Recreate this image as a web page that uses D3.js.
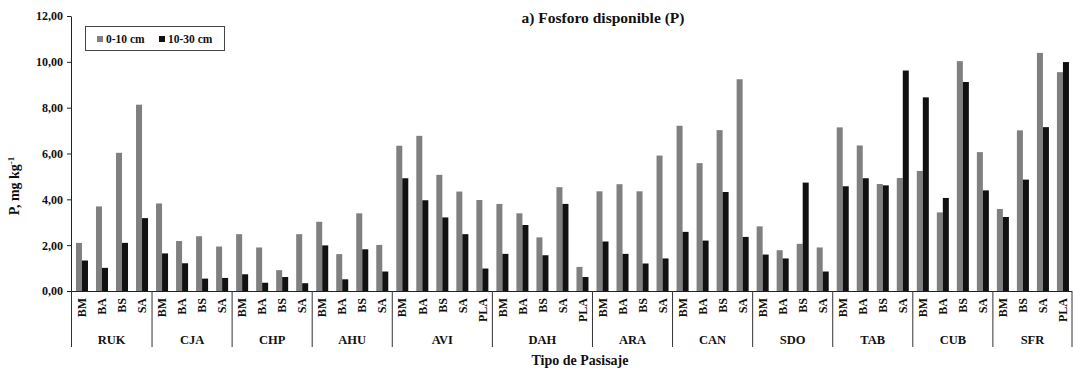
<!DOCTYPE html>
<html>
<head>
<meta charset="utf-8">
<script src="https://cdn.jsdelivr.net/npm/d3@7"></script>
<style>
  html, body { margin: 0; padding: 0; background: #fff; }
  svg { display: block; font-family: "Liberation Serif", "Times New Roman", serif; font-weight: bold; }
</style>
</head>
<body>
<svg id="chart" width="1073" height="369"></svg>
<script>
// Landscape groups and the sampling sites inside each one
const groups = ["RUK", "CJA", "CHP", "AHU", "AVI", "DAH", "ARA", "CAN", "SDO", "TAB", "CUB", "SFR"];
const sites = [
  ["BM", "BA", "BS", "SA"],
  ["BM", "BA", "BS", "SA"],
  ["BM", "BA", "BS", "SA"],
  ["BM", "BA", "BS", "SA"],
  ["BM", "BA", "BS", "SA", "PLA"],
  ["BM", "BA", "BS", "SA", "PLA"],
  ["BM", "BA", "BS", "SA"],
  ["BM", "BA", "BS", "SA"],
  ["BM", "BA", "BS", "SA"],
  ["BM", "BA", "BS", "SA"],
  ["BM", "BA", "BS", "SA"],
  ["BM", "BS", "SA", "PLA"]
];

// Available phosphorus (mg kg-1), one entry per site, in the order above
const p0to10 = [
  2.10, 3.69, 6.03, 8.13,
  3.82, 2.18, 2.39, 1.94,
  2.48, 1.90, 0.91, 2.48,
  3.02, 1.61, 3.39, 2.01,
  6.34, 6.77, 5.07, 4.34, 3.97,
  3.80, 3.39, 2.34, 4.53, 1.05,
  4.35, 4.66, 4.35, 5.91,
  7.21, 5.58, 7.02, 9.24,
  2.82, 1.78, 2.06, 1.90,
  7.14, 6.35, 4.67, 4.93,
  5.24, 3.43, 10.03, 6.06,
  3.58, 7.01, 10.39, 9.55
];
const p10to30 = [
  1.33, 1.01, 2.10, 3.18,
  1.64, 1.21, 0.54, 0.57,
  0.73, 0.36, 0.61, 0.34,
  1.99, 0.51, 1.82, 0.85,
  4.92, 3.96, 3.21, 2.48, 0.98,
  1.62, 2.88, 1.56, 3.80, 0.61,
  2.16, 1.62, 1.20, 1.42,
  2.58, 2.20, 4.32, 2.36,
  1.59, 1.42, 4.73, 0.85,
  4.57, 4.92, 4.61, 9.62,
  8.45, 4.06, 9.12, 4.39,
  3.23, 4.86, 7.15, 9.99
];

const seriesNames = ["0-10 cm", "10-30 cm"];
const seriesColors = ["#808080", "#111111"];
const yTicks = [0, 2, 4, 6, 8, 10, 12];

// Flatten into one record per bar pair
const rows = [];
groups.forEach((g, gi) => {
  sites[gi].forEach(s => {
    const i = rows.length;
    rows.push({ id: g + "-" + s, group: g, site: s, values: [p0to10[i], p10to30[i]] });
  });
});

const svg = d3.select("#chart");
const plotLeft = 71, plotRight = 1072, plotTop = 16, plotBase = 291;

const x = d3.scaleBand()
  .domain(rows.map(d => d.id))
  .range([plotLeft, plotRight])
  .paddingInner(0.4)
  .paddingOuter(0.2)
  .align(0.62);

const xs = d3.scaleBand()
  .domain(d3.range(seriesNames.length))
  .range([0, x.bandwidth()]);

const y = d3.scaleLinear().domain([0, 12]).range([plotBase, plotTop]);

const fmt = v => d3.format(".2f")(v).replace(".", ",");

// Y axis
const yAxis = svg.append("g")
  .attr("transform", `translate(${plotLeft},0)`)
  .call(d3.axisLeft(y).tickValues(yTicks).tickFormat(fmt).tickSize(4).tickPadding(4).tickSizeOuter(0));
yAxis.selectAll("text").attr("font-size", 12).attr("font-family", "Liberation Serif").attr("font-weight", "bold").attr("fill", "#111");
yAxis.selectAll("line, path").attr("stroke", "#222");

// Bars
const cat = svg.append("g").selectAll("g")
  .data(rows)
  .join("g")
  .attr("transform", d => `translate(${x(d.id)},0)`);

cat.selectAll("rect")
  .data(d => d.values.map((v, k) => ({ v, k })))
  .join("rect")
  .attr("x", d => xs(d.k))
  .attr("width", xs.bandwidth())
  .attr("y", d => y(d.v))
  .attr("height", d => plotBase - y(d.v))
  .attr("fill", d => seriesColors[d.k]);

// X axis with rotated site labels
const xAxis = svg.append("g")
  .attr("transform", `translate(0,${plotBase})`)
  .call(d3.axisBottom(x).tickSize(0).tickSizeOuter(0).tickFormat(id => rows.find(r => r.id === id).site));
xAxis.select(".domain").attr("stroke", "#222").attr("d", `M${plotLeft},0.5H${plotRight}`);
xAxis.selectAll("text")
  .attr("font-size", 12)
  .attr("font-family", "Liberation Serif")
  .attr("font-weight", "bold")
  .attr("fill", "#111")
  .attr("transform", "rotate(-90)")
  .attr("text-anchor", "end")
  .attr("x", -7)
  .attr("y", 0)
  .attr("dy", "0.35em");

// Group separators and group names
const step = x.step();
const groupSpans = [];
let start = 0;
groups.forEach((g, gi) => {
  groupSpans.push({ g, from: start, to: start + sites[gi].length });
  start += sites[gi].length;
});
const edge = i => i === rows.length ? plotRight : x(rows[i].id) - step * x.paddingInner() / 2;

const bounds = [0].concat(groupSpans.map(s => s.to));
svg.append("g").selectAll("line")
  .data(bounds)
  .join("line")
  .attr("x1", i => i === 0 ? plotLeft + 0.5 : edge(i))
  .attr("x2", i => i === 0 ? plotLeft + 0.5 : edge(i))
  .attr("y1", plotBase)
  .attr("y2", plotBase + 56)
  .attr("stroke", "#333")
  .attr("stroke-width", 1);

svg.append("g").selectAll("text")
  .data(groupSpans)
  .join("text")
  .attr("x", s => ((s.from === 0 ? plotLeft : edge(s.from)) + edge(s.to)) / 2)
  .attr("y", plotBase + 53)
  .attr("text-anchor", "middle")
  .attr("font-size", 12.5)
  .attr("fill", "#111")
  .text(s => s.g);

// Titles
svg.append("text")
  .attr("x", 603).attr("y", 23)
  .attr("text-anchor", "middle")
  .attr("font-size", 15.5)
  .attr("fill", "#111")
  .text("a) Fosforo disponible (P)");

svg.append("text")
  .attr("x", 580).attr("y", 365)
  .attr("text-anchor", "middle")
  .attr("font-size", 14)
  .attr("fill", "#111")
  .text("Tipo de Pasisaje");

const yTitle = svg.append("text")
  .attr("transform", "translate(19,186) rotate(-90)")
  .attr("text-anchor", "middle")
  .attr("font-size", 14)
  .attr("fill", "#111");
yTitle.append("tspan").text("P, mg kg");
yTitle.append("tspan").attr("font-size", 9).attr("dy", -5).text("-1");

// Legend
const legend = svg.append("g");
legend.append("rect")
  .attr("x", 85.5).attr("y", 26.5).attr("width", 139).attr("height", 24)
  .attr("fill", "#fff").attr("stroke", "#444");
const legX = [97, 159];
seriesNames.forEach((name, k) => {
  legend.append("rect")
    .attr("x", legX[k]).attr("y", 36).attr("width", 6).attr("height", 6)
    .attr("fill", seriesColors[k]);
  legend.append("text")
    .attr("x", legX[k] + 9).attr("y", 43)
    .attr("font-size", 11.5)
    .attr("fill", "#111")
    .text(name);
});
</script>
</body>
</html>
